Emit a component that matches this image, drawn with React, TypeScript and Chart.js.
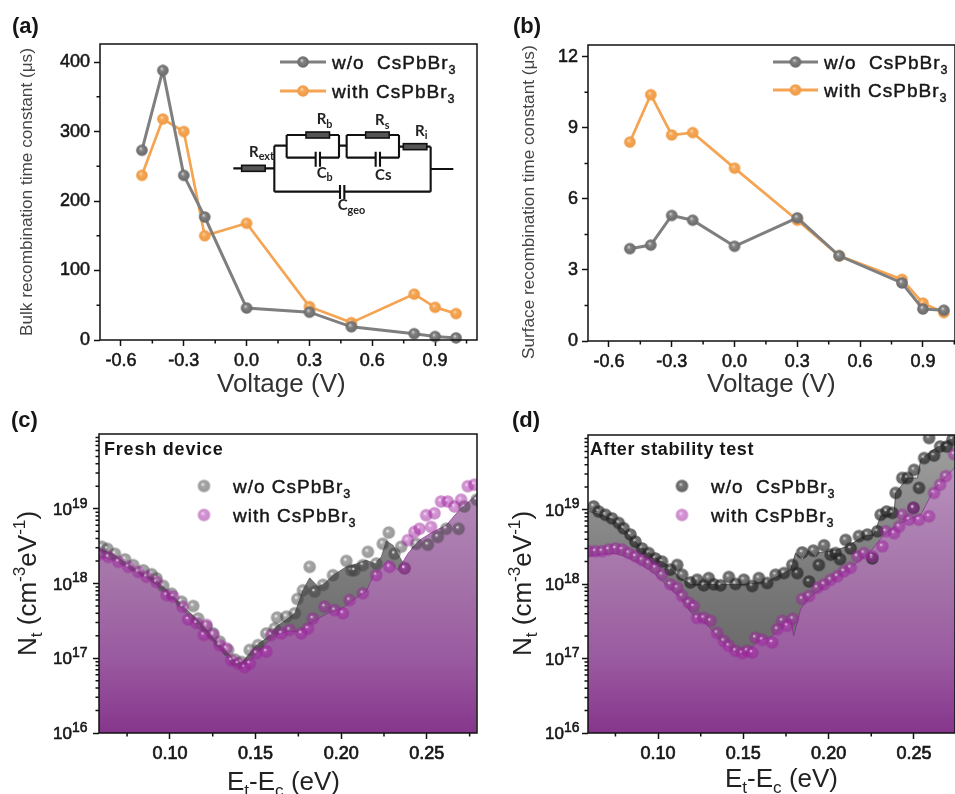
import React, { useEffect, useRef } from "react";
import { Chart, registerables } from "chart.js";

Chart.register(...registerables);

type Pt = [number, number];

// ---------- Panels (a) and (b): recombination time constants ----------
const voltage = [-0.5, -0.4, -0.3, -0.2, 0, 0.3, 0.5, 0.8, 0.9, 1.0];
const bulkWithout = [273, 388, 237, 177, 46, 40, 19, 9, 5, 3];
const bulkWith = [237, 318, 300, 150, 168, 48, 25, 66, 47, 38];
const surfaceWithout = [3.9, 4.05, 5.3, 5.1, 4.0, 5.2, 3.6, 2.45, 1.35, 1.3];
const surfaceWith = [8.4, 10.4, 8.7, 8.8, 7.3, 5.1, 3.6, 2.6, 1.6, 1.2];

const voltageTicks = [-0.6, -0.3, 0, 0.3, 0.6, 0.9];
const voltageMinor = [-0.45, -0.15, 0.15, 0.45, 0.75, 1.05];
const bulkTicks = [0, 100, 200, 300, 400];
const bulkMinor = [50, 150, 250, 350];
const surfaceTicks = [0, 3, 6, 9, 12];
const surfaceMinor = [1.5, 4.5, 7.5, 10.5];

// ---------- Panels (c) and (d): trap density ----------
const energyTicks = [0.1, 0.15, 0.2, 0.25];
const energyMinor = [0.075, 0.125, 0.175, 0.225, 0.275];
const densityTicks = [1e16, 1e17, 1e18, 1e19];
const densityExponents = ["16", "17", "18", "19"];
const densityMinor = [
  2e16, 3e16, 4e16, 5e16, 6e16, 7e16, 8e16, 9e16, 2e17, 3e17, 4e17, 5e17, 6e17, 7e17, 8e17, 9e17,
  2e18, 3e18, 4e18, 5e18, 6e18, 7e18, 8e18, 9e18, 2e19, 3e19, 4e19, 5e19, 6e19, 7e19, 8e19, 9e19,
];

const freshWithoutArea: Pt[] = [
  [0.0584, 2.95e18], [0.067, 2.47e18], [0.0747, 1.85e18], [0.0825, 1.43e18], [0.0903, 1.17e18], [0.0961, 9.1e17],
  [0.102, 6.7e17], [0.1087, 4.7e17], [0.1155, 3.4e17], [0.1214, 2.4e17], [0.1272, 1.67e17], [0.133, 1.23e17],
  [0.1379, 9.4e16], [0.1418, 8.7e16], [0.1466, 1.17e17], [0.1505, 1.5e17], [0.1563, 1.85e17], [0.1622, 2.65e17],
  [0.168, 3.3e17], [0.1729, 4e17], [0.1777, 8.2e17], [0.1816, 1.19e18], [0.1864, 9.1e17], [0.1903, 1e18],
  [0.1952, 1.29e18], [0.203, 1.67e18], [0.2069, 1.76e18], [0.2146, 2.05e18], [0.2195, 1.85e18], [0.2234, 2.27e18],
  [0.2263, 3.7e18], [0.2302, 3.26e18], [0.2341, 2.27e18], [0.237, 1.76e18], [0.2418, 3.1e18], [0.2515, 3.6e18],
  [0.2613, 4.4e18], [0.269, 7.8e18], [0.2791, 1.32e19],
];
const freshWithArea: Pt[] = [
  [0.0584, 2.3e18], [0.067, 2.05e18], [0.0747, 1.67e18], [0.0825, 1.36e18], [0.0903, 1.05e18], [0.0961, 8.2e17],
  [0.102, 6.3e17], [0.1087, 4.2e17], [0.1155, 2.65e17], [0.1214, 2.05e17], [0.1272, 1.5e17], [0.133, 1.05e17],
  [0.1379, 8.9e16], [0.1418, 8.1e16], [0.1466, 8.9e16], [0.1505, 1.17e17], [0.1563, 1.6e17], [0.1622, 2.05e17],
  [0.168, 2.27e17], [0.1758, 2.27e17], [0.1835, 3.1e17], [0.1923, 4e17], [0.201, 4.7e17], [0.2069, 6e17],
  [0.2146, 7.8e17], [0.2185, 1.23e18], [0.2224, 1.5e18], [0.2273, 2.05e18], [0.2331, 1.5e18], [0.2389, 2.5e18],
  [0.2457, 3.8e18], [0.2535, 4.9e18], [0.2613, 6e18], [0.269, 9.6e18], [0.2791, 1.55e19],
];
const freshWithoutPoints: Pt[] = [
  [0.0602, 3.1e18], [0.0635, 2.9e18], [0.0679, 2.5e18], [0.0738, 2.1e18], [0.0786, 1.76e18], [0.0845, 1.5e18],
  [0.0893, 1.33e18], [0.0922, 1.17e18], [0.0961, 9.3e17], [0.101, 7.3e17], [0.1068, 5.7e17], [0.1136, 5e17],
  [0.1165, 3.4e17], [0.1214, 2.65e17], [0.1253, 2.15e17], [0.1291, 1.67e17], [0.134, 1.29e17], [0.1379, 9.6e16],
  [0.1418, 8.9e16], [0.1466, 1.29e17], [0.1515, 1.5e17], [0.1563, 2.15e17], [0.1612, 2.5e17], [0.1626, 3.5e17],
  [0.168, 3.6e17], [0.1729, 4e17], [0.1744, 6.2e17], [0.1777, 8.1e17], [0.1816, 1.67e18], [0.1845, 7.8e17],
  [0.1894, 9.6e17], [0.1952, 1.29e18], [0.203, 2e18], [0.2059, 1.5e18], [0.2078, 1.5e18], [0.2127, 1.76e18],
  [0.2156, 2.65e18], [0.2205, 1.85e18], [0.2243, 3.4e18], [0.2278, 4.8e18], [0.2311, 2.5e18], [0.235, 3.1e18],
  [0.237, 1.6e18], [0.2438, 3.4e18], [0.2506, 3.3e18], [0.2564, 4.2e18], [0.2613, 5.4e18], [0.2686, 5.4e18],
  [0.2719, 1.07e19], [0.2791, 1.32e19],
];
const freshWithPoints: Pt[] = [
  [0.0592, 2.47e18], [0.0641, 2.27e18], [0.0699, 1.95e18], [0.0757, 1.67e18], [0.0815, 1.43e18], [0.0864, 1.23e18],
  [0.0922, 1.05e18], [0.0981, 7e17], [0.1019, 6.7e17], [0.1074, 4.9e17], [0.1107, 3.3e17], [0.1155, 2.95e17],
  [0.1198, 2.05e17], [0.1214, 2.8e17], [0.1253, 2.05e17], [0.1291, 1.5e17], [0.133, 1.36e17], [0.1359, 9.4e16],
  [0.1398, 8.5e16], [0.1437, 7.6e16], [0.1466, 8.5e16], [0.1505, 1.17e17], [0.1563, 1.23e17], [0.1593, 2.05e17],
  [0.1651, 2.15e17], [0.1699, 2.4e17], [0.1767, 2.15e17], [0.1806, 2.5e17], [0.1835, 3.4e17], [0.1903, 4.9e17],
  [0.1962, 4.4e17], [0.201, 4e17], [0.2049, 6e17], [0.2127, 7.4e17], [0.2205, 1.29e18], [0.2282, 1.67e18],
  [0.237, 1.6e18], [0.2389, 3.8e18], [0.2428, 4.9e18], [0.2457, 5.4e18], [0.2496, 8.2e18], [0.2525, 5.7e18],
  [0.2545, 8.7e18], [0.2583, 1.25e19], [0.2622, 1.25e19], [0.2661, 1.07e19], [0.27, 1.32e19], [0.2739, 2e19],
  [0.2778, 2.1e19],
];

const agedWithoutArea: Pt[] = [
  [0.0589, 9.5e18], [0.0661, 8.5e18], [0.074, 7.3e18], [0.0818, 4.8e18], [0.0896, 3.2e18], [0.0975, 2.35e18],
  [0.1053, 1.8e18], [0.1131, 1.2e18], [0.119, 9.9e17], [0.1288, 9.9e17], [0.1366, 9.9e17], [0.1503, 9.9e17],
  [0.164, 1.08e18], [0.1718, 1.33e18], [0.1777, 1.56e18], [0.1806, 2.6e18], [0.1847, 2.1e18], [0.1883, 2.8e18],
  [0.1924, 2.3e18], [0.1941, 2.65e18], [0.2031, 2.8e18], [0.211, 3.2e18], [0.2207, 4.4e18], [0.2266, 4.6e18],
  [0.2305, 8.2e18], [0.2384, 9e18], [0.2393, 1.67e19], [0.2462, 2.65e19], [0.2521, 2.65e19], [0.254, 4.7e19],
  [0.2618, 6.4e19], [0.2746, 9.6e19],
];
const agedWithArea: Pt[] = [
  [0.0589, 2.35e18], [0.0661, 2.5e18], [0.074, 2.6e18], [0.0818, 2.3e18], [0.0896, 1.85e18], [0.0975, 1.4e18],
  [0.1053, 9.5e17], [0.1131, 6.5e17], [0.1209, 3.7e17], [0.1288, 2.85e17], [0.1366, 1.72e17], [0.1444, 1.27e17],
  [0.1503, 1.14e17], [0.153, 1.25e17], [0.1583, 1.7e17], [0.1659, 1.93e17], [0.173, 2.6e17], [0.1777, 3.4e17],
  [0.1795, 2e17], [0.1836, 4.6e17], [0.1865, 5.7e17], [0.1914, 7.3e17], [0.2004, 1.03e18], [0.2129, 1.65e18],
  [0.2247, 2.75e18], [0.2325, 4.6e18], [0.2423, 6.6e18], [0.254, 8.5e18], [0.2618, 1.85e19], [0.2746, 3.8e19],
];
const agedWithoutPoints: Pt[] = [
  [0.0622, 1.1e19], [0.0652, 9.4e18], [0.0691, 8.5e18], [0.073, 7.6e18], [0.0769, 6.6e18], [0.0798, 5.6e18],
  [0.0838, 4.6e18], [0.0867, 3.7e18], [0.0906, 3e18], [0.0945, 2.6e18], [0.0984, 2.2e18], [0.1023, 2e18],
  [0.1072, 1.56e18], [0.1112, 1.8e18], [0.1141, 1.33e18], [0.119, 1.05e18], [0.1229, 1.14e18], [0.1268, 9.6e17],
  [0.1297, 1.2e18], [0.1327, 9.9e17], [0.1366, 9.6e17], [0.1415, 1.24e18], [0.1454, 1e18], [0.1503, 1.14e18],
  [0.1552, 9.4e17], [0.1591, 1.2e18], [0.164, 1.03e18], [0.1689, 1.33e18], [0.1738, 1.4e18], [0.1787, 1.8e18],
  [0.1816, 1.4e18], [0.1845, 2.65e18], [0.1885, 1.08e18], [0.191, 2.8e18], [0.1943, 1.8e18], [0.1973, 3.3e18],
  [0.2012, 2.47e18], [0.2041, 2.6e18], [0.2067, 2.15e18], [0.21, 3.9e18], [0.2129, 3e18], [0.2178, 4.4e18],
  [0.2227, 4.6e18], [0.2256, 2.2e18], [0.2286, 5.1e18], [0.2305, 8.5e18], [0.234, 9.4e18], [0.2374, 9e18],
  [0.2393, 1.67e19], [0.2432, 2.65e19], [0.2462, 2.65e19], [0.2497, 1.05e19], [0.2501, 3.4e19], [0.253, 1.95e19],
  [0.256, 4.9e19], [0.2589, 9.1e19], [0.2618, 5.3e19], [0.2654, 7e19], [0.2693, 7e19], [0.2726, 8.7e19],
];
const agedWithPoints: Pt[] = [
  [0.0593, 2.75e18], [0.0632, 2.75e18], [0.0671, 2.75e18], [0.071, 2.9e18], [0.075, 3e18], [0.0789, 2.9e18],
  [0.0828, 2.6e18], [0.0867, 2.35e18], [0.0906, 2.1e18], [0.0945, 1.9e18], [0.0984, 1.65e18], [0.1023, 1.33e18],
  [0.1072, 9.9e17], [0.1112, 8.9e17], [0.1141, 6.9e17], [0.118, 5.6e17], [0.1209, 5e17], [0.1229, 3.5e17],
  [0.1268, 3.5e17], [0.1307, 3.2e17], [0.1346, 2.2e17], [0.1386, 1.72e17], [0.1415, 1.48e17], [0.1454, 1.27e17],
  [0.1493, 1.18e17], [0.1523, 1.27e17], [0.1552, 1.2e17], [0.1571, 1.9e17], [0.1611, 1.78e17], [0.1669, 1.64e17],
  [0.1699, 2.47e17], [0.1728, 3.2e17], [0.1757, 2.75e17], [0.179, 3.4e17], [0.1845, 6.3e17], [0.1885, 6.9e17],
  [0.1933, 8.9e17], [0.1973, 9.9e17], [0.2012, 1.14e18], [0.2051, 1.27e18], [0.209, 1.48e18], [0.2129, 1.65e18],
  [0.2168, 2.35e18], [0.2207, 2.6e18], [0.2256, 2.35e18], [0.2315, 3.2e18], [0.2335, 5.1e18], [0.2384, 4.8e18],
  [0.2413, 5.9e18], [0.2432, 8.5e18], [0.2472, 7.3e18], [0.2497, 1.05e19], [0.253, 7.3e18], [0.2589, 8.1e18],
  [0.2618, 1.67e19], [0.2654, 2.15e19], [0.2687, 2.8e19], [0.2736, 5.5e19],
];

// ---------- Text helpers ----------
const FONT = '"Liberation Sans", Arial, sans-serif';
const INK = "#161616";
type Part = { t: string; k?: "sub" | "sup" };

function drawRich(
  ctx: CanvasRenderingContext2D, x: number, y: number, parts: Part[], size: number,
  opts: { rot?: number; color?: string; weight?: string; spacing?: number; family?: string; subScale?: number; stroke?: number; supRise?: number } = {},
) {
  const { rot = 0, color = INK, weight = "normal", spacing = 0, family = FONT, subScale = 0.66, stroke = 0, supRise = 0.42 } = opts;
  ctx.save();
  ctx.translate(x, y);
  ctx.rotate(rot);
  ctx.fillStyle = color;
  ctx.strokeStyle = color;
  ctx.lineWidth = stroke;
  ctx.lineJoin = "round";
  ctx.textAlign = "left";
  ctx.textBaseline = "alphabetic";
  (ctx as any).letterSpacing = spacing + "px";
  let cx = 0;
  for (const p of parts) {
    const s = p.k ? size * subScale : size;
    ctx.font = `${weight} ${s}px ${family}`;
    const dy = p.k === "sub" ? size * 0.24 : p.k === "sup" ? -size * supRise : 0;
    if (stroke > 0) ctx.strokeText(p.t, cx, dy);
    ctx.fillText(p.t, cx, dy);
    cx += ctx.measureText(p.t).width;
  }
  ctx.restore();
}

function sphere(radius: number, base: string, light: string, edge: string, spot: string) {
  const c = document.createElement("canvas");
  const size = Math.ceil(radius * 2) + 2;
  c.width = size;
  c.height = size;
  const g = c.getContext("2d")!;
  const m = size / 2;
  const grad = g.createRadialGradient(m - radius * 0.2, m - radius * 0.3, 0, m, m, radius);
  grad.addColorStop(0, light);
  grad.addColorStop(0.45, base);
  grad.addColorStop(1, edge);
  g.fillStyle = grad;
  g.beginPath();
  g.arc(m, m, radius, 0, Math.PI * 2);
  g.fill();
  g.fillStyle = spot;
  g.beginPath();
  g.arc(m - radius * 0.2, m - radius * 0.26, radius * 0.2, 0, Math.PI * 2);
  g.fill();
  return c;
}

function circuit(ctx: CanvasRenderingContext2D) {
  const X = (z: number) => 225 + z / 3;
  const Y = (z: number) => 105 + z / 3;
  ctx.save();
  ctx.strokeStyle = "#111";
  ctx.lineWidth = 2.1;
  const wires = [
    [25, 190, 148, 190], [148, 122, 148, 260], [148, 122, 185, 122],
    [185, 90, 342, 90], [185, 90, 185, 158], [342, 90, 342, 158],
    [185, 158, 272, 158], [285, 158, 342, 158], [342, 122, 365, 122],
    [365, 90, 522, 90], [365, 90, 365, 158], [522, 90, 522, 158],
    [365, 158, 452, 158], [465, 158, 522, 158], [522, 125, 617, 125],
    [617, 125, 617, 260], [148, 260, 345, 260], [358, 260, 617, 260],
    [617, 192, 685, 192],
    [272, 140, 272, 185], [285, 140, 285, 185], [452, 140, 452, 185], [465, 140, 465, 185],
    [345, 240, 345, 282], [358, 240, 358, 282],
  ];
  ctx.beginPath();
  for (const [a, b, c, d] of wires) {
    ctx.moveTo(X(a), Y(b));
    ctx.lineTo(X(c), Y(d));
  }
  ctx.stroke();
  ctx.fillStyle = "#555";
  ctx.lineWidth = 1.6;
  for (const [a, b] of [[50, 190], [243, 90], [422, 90], [535, 125]]) {
    ctx.fillRect(X(a), Y(b) - 3, 23.5, 6);
    ctx.strokeRect(X(a), Y(b) - 3, 23.5, 6);
  }
  ctx.restore();
  const labels: [number, number, Part[]][] = [
    [72, 155, [{ t: "R" }, { t: "ext", k: "sub" }]],
    [275, 58, [{ t: "R" }, { t: "b", k: "sub" }]],
    [450, 60, [{ t: "R" }, { t: "s", k: "sub" }]],
    [570, 92, [{ t: "R" }, { t: "i", k: "sub" }]],
    [275, 218, [{ t: "C" }, { t: "b", k: "sub" }]],
    [450, 224, [{ t: "Cs" }]],
    [338, 315, [{ t: "C" }, { t: "geo", k: "sub" }]],
  ];
  for (const [a, b, p] of labels) {
    drawRich(ctx, X(a), Y(b), p, 15, { weight: "bold", family: "Lato, sans-serif", color: "#222", subScale: 0.72 });
  }
}

// ---------- Chart set-up ----------
type Legend = { marker: HTMLCanvasElement; color?: string; parts: Part[]; y: number; baseline: number };
type PanelCfg = {
  x: number; y: number; w: number; h: number;
  left: number; top: number; right: number; bottom: number;
  xr: [number, number]; yr: [number, number];
  log: boolean; logLabelOffset?: number;
  xTicks: number[]; xMinor: number[]; xDigits: number;
  yTicks: number[]; yMinor: number[];
  datasets: any[];
  draw: (ctx: CanvasRenderingContext2D) => void;
};

const W3 = "w/o  CsPbBr";
const WITH3 = "with CsPbBr";

function makeConfigs(): PanelCfg[] {
  const grayS = sphere(5.8, "#7d7d7d", "#a8a8a8", "#686868", "rgba(215,215,215,0.75)");
  const orangeS = sphere(5.8, "#f4a452", "#f9c083", "#ee9a45", "rgba(250,215,170,0.8)");
  const freshGray = sphere(6.2, "rgba(60,60,60,0.48)", "rgba(90,90,90,0.4)", "rgba(60,60,60,0.52)", "rgba(255,255,255,0.7)");
  const agedGray = sphere(6.2, "rgba(40,40,40,0.66)", "rgba(70,70,70,0.6)", "rgba(30,30,30,0.7)", "rgba(255,255,255,0.55)");
  const pink = sphere(6.2, "rgba(165,40,165,0.5)", "rgba(190,80,190,0.45)", "rgba(150,30,150,0.52)", "rgba(255,230,255,0.6)");

  const purpleFill = (c: any) => {
    const area = c.chart.chartArea;
    if (!area) return "#a070a5";
    const g = c.chart.ctx.createLinearGradient(0, area.top, 0, area.bottom);
    g.addColorStop(0, "#c09bc4");
    g.addColorStop(0.25, "#b085b5");
    g.addColorStop(0.5, "#a472a8");
    g.addColorStop(0.75, "#9a5aa0");
    g.addColorStop(1, "#86368c");
    return g;
  };
  const grayFill = (c: any) => {
    const area = c.chart.chartArea;
    if (!area) return "#777";
    const g = c.chart.ctx.createLinearGradient(0, area.top, 0, area.bottom);
    g.addColorStop(0, "#a0a0a0");
    g.addColorStop(0.55, "#757575");
    g.addColorStop(1, "#5c5c5c");
    return g;
  };

  const lineSet = (label: string, ys: number[], color: string, marker: HTMLCanvasElement, order: number, width: number) => ({
    label,
    data: voltage.map((v, i) => ({ x: v, y: ys[i] })),
    borderColor: color,
    borderWidth: width,
    pointStyle: marker,
    pointRadius: 5,
    order,
    clip: false,
  });
  const area = (label: string, pts: Pt[], fill: any, line: string, order: number) => ({
    label,
    data: pts.map(([x, y]) => ({ x, y })),
    backgroundColor: fill,
    fill: "start",
    borderColor: line,
    borderWidth: 1,
    pointRadius: 0,
    order,
  });
  const dots = (label: string, pts: Pt[], marker: HTMLCanvasElement, order: number) => ({
    label,
    data: pts.map(([x, y]) => ({ x, y })),
    showLine: false,
    pointStyle: marker,
    pointRadius: 5,
    order,
  });
  const curveLegend = (ctx: CanvasRenderingContext2D, x0: number, x1: number, tx: number, rows: Legend[]) => {
    for (const r of rows) {
      ctx.save();
      ctx.strokeStyle = r.color!;
      ctx.lineWidth = 2.8;
      ctx.beginPath();
      ctx.moveTo(x0, r.y);
      ctx.lineTo(x1, r.y);
      ctx.stroke();
      ctx.restore();
      ctx.drawImage(r.marker, (x0 + x1) / 2 - r.marker.width / 2, r.y - r.marker.height / 2);
      drawRich(ctx, tx, r.baseline, r.parts, 19, { spacing: 1, stroke: 0.45 });
    }
  };
  const dotLegend = (ctx: CanvasRenderingContext2D, mx: number, tx: number, rows: Legend[]) => {
    for (const r of rows) {
      ctx.drawImage(r.marker, mx - r.marker.width / 2, r.y - r.marker.height / 2);
      drawRich(ctx, tx, r.baseline, r.parts, 19, { spacing: 1, stroke: 0.45 });
    }
  };
  const voltageTitle: Part[] = [{ t: "Voltage (V)" }];
  const nTitle: Part[] = [{ t: "N" }, { t: "t", k: "sub" }, { t: " (cm" }, { t: "-3", k: "sup" }, { t: "eV" }, { t: "-1", k: "sup" }, { t: ")" }];
  const eTitle: Part[] = [{ t: "E" }, { t: "t", k: "sub" }, { t: "-E" }, { t: "c", k: "sub" }, { t: " (eV)" }];

  return [
    {
      x: 0, y: 0, w: 480, h: 400, left: 100, top: 44, right: 3, bottom: 60,
      xr: [-0.7, 1.1], yr: [0, 426], log: false,
      xTicks: voltageTicks, xMinor: voltageMinor, xDigits: 1, yTicks: bulkTicks, yMinor: bulkMinor,
      datasets: [
        lineSet("w/o CsPbBr3", bulkWithout, "#7f7f7f", grayS, 0, 3),
        lineSet("with CsPbBr3", bulkWith, "#f4a452", orangeS, 1, 2.7),
      ],
      draw: (ctx) => {
        drawRich(ctx, 12, 33, [{ t: "(a)" }], 22, { weight: "bold" });
        drawRich(ctx, 217, 392, voltageTitle, 26, { color: "#333" });
        drawRich(ctx, 32, 336, [{ t: "Bulk recombination time constant " }, { t: "(μs)" }], 17.2, { rot: -Math.PI / 2, color: "#444" });
        curveLegend(ctx, 280, 326, 332, [
          { marker: grayS, color: "#7f7f7f", parts: [{ t: W3 }, { t: "3", k: "sub" }], y: 62, baseline: 69 },
          { marker: orangeS, color: "#f4a452", parts: [{ t: WITH3 }, { t: "3", k: "sub" }], y: 91, baseline: 98 },
        ]);
        circuit(ctx);
      },
    },
    {
      x: 480, y: 0, w: 475, h: 400, left: 108, top: 45, right: 0, bottom: 59,
      xr: [-0.7, 1.0534], yr: [0, 12.5], log: false,
      xTicks: voltageTicks, xMinor: voltageMinor, xDigits: 1, yTicks: surfaceTicks, yMinor: surfaceMinor,
      datasets: [
        lineSet("w/o CsPbBr3", surfaceWithout, "#7f7f7f", grayS, 0, 3),
        lineSet("with CsPbBr3", surfaceWith, "#f4a452", orangeS, 1, 2.7),
      ],
      draw: (ctx) => {
        drawRich(ctx, 33, 33, [{ t: "(b)" }], 22, { weight: "bold" });
        drawRich(ctx, 227, 392, voltageTitle, 26, { color: "#333" });
        drawRich(ctx, 54, 359, [{ t: "Surface recombination time constant " }, { t: "(μs)" }], 17.2, { rot: -Math.PI / 2, color: "#444" });
        curveLegend(ctx, 293, 338, 344, [
          { marker: grayS, color: "#7f7f7f", parts: [{ t: W3 }, { t: "3", k: "sub" }], y: 62, baseline: 69 },
          { marker: orangeS, color: "#f4a452", parts: [{ t: WITH3 }, { t: "3", k: "sub" }], y: 90, baseline: 97 },
        ]);
      },
    },
    {
      x: 0, y: 400, w: 480, h: 394, left: 99, top: 34, right: 3, bottom: 61,
      xr: [0.0586, 0.2793], yr: [1e16, 1e20], log: true, logLabelOffset: 46,
      xTicks: energyTicks, xMinor: energyMinor, xDigits: 2, yTicks: densityTicks, yMinor: densityMinor,
      datasets: [
        dots("with CsPbBr3", freshWithPoints, pink, 0),
        dots("w/o CsPbBr3", freshWithoutPoints, freshGray, 1),
        area("with CsPbBr3 area", freshWithArea, purpleFill, "rgba(135,40,145,0.7)", 2),
        area("w/o CsPbBr3 area", freshWithoutArea, grayFill, "rgba(60,60,60,0.6)", 3),
      ],
      draw: (ctx) => {
        drawRich(ctx, 11, 27, [{ t: "(c)" }], 22, { weight: "bold" });
        drawRich(ctx, 227, 390, eTitle, 26, { color: "#222" });
        drawRich(ctx, 36, 256, nTitle, 26, { rot: -Math.PI / 2, color: "#222" });
        drawRich(ctx, 104, 55, [{ t: "Fresh device" }], 18, { weight: "bold", spacing: 0.8 });
        dotLegend(ctx, 204, 233, [
          { marker: freshGray, parts: [{ t: "w/o CsPbBr" }, { t: "3", k: "sub" }], y: 86, baseline: 93 },
          { marker: pink, parts: [{ t: WITH3 }, { t: "3", k: "sub" }], y: 115, baseline: 122 },
        ]);
      },
    },
    {
      x: 480, y: 400, w: 475, h: 394, left: 108, top: 35, right: 0, bottom: 61,
      xr: [0.0589, 0.2741], yr: [1e16, 1e20], log: true, logLabelOffset: 43,
      xTicks: energyTicks, xMinor: energyMinor, xDigits: 2, yTicks: densityTicks, yMinor: densityMinor,
      datasets: [
        dots("with CsPbBr3", agedWithPoints, pink, 0),
        dots("w/o CsPbBr3", agedWithoutPoints, agedGray, 1),
        area("with CsPbBr3 area", agedWithArea, purpleFill, "rgba(135,40,145,0.7)", 2),
        area("w/o CsPbBr3 area", agedWithoutArea, grayFill, "rgba(50,50,50,0.7)", 3),
      ],
      draw: (ctx) => {
        drawRich(ctx, 32, 27, [{ t: "(d)" }], 22, { weight: "bold" });
        drawRich(ctx, 245, 387, eTitle, 26, { color: "#222" });
        drawRich(ctx, 51, 256, nTitle, 26, { rot: -Math.PI / 2, color: "#222" });
        drawRich(ctx, 110, 55, [{ t: "After stability test" }], 18, { weight: "bold", spacing: 0.6 });
        dotLegend(ctx, 202, 231, [
          { marker: agedGray, parts: [{ t: W3 }, { t: "3", k: "sub" }], y: 86, baseline: 93 },
          { marker: pink, parts: [{ t: WITH3 }, { t: "3", k: "sub" }], y: 115, baseline: 122 },
        ]);
      },
    },
  ];
}

function buildChart(canvas: HTMLCanvasElement, cfg: PanelCfg) {
  const axisCommon = {
    border: { display: false },
    grid: { drawOnChartArea: false, drawTicks: true, tickLength: 6, tickWidth: 1.5, tickColor: "#111" },
  };
  const tickText = {
    color: INK,
    textStrokeColor: INK,
    textStrokeWidth: cfg.log ? 0.7 : 0.55,
    font: { family: FONT, size: 18 },
  };
  const overlay = {
    id: "overlay",
    afterDraw(chart: any) {
      const { ctx, chartArea: a, scales } = chart;
      ctx.save();
      ctx.strokeStyle = "#111";
      ctx.lineWidth = 1.5;
      ctx.beginPath();
      for (const v of cfg.xMinor) {
        const p = scales.x.getPixelForValue(v);
        if (p > a.right) continue;
        ctx.moveTo(p, a.bottom);
        ctx.lineTo(p, a.bottom + 3.5);
      }
      for (const v of cfg.yMinor) {
        const p = scales.y.getPixelForValue(v);
        ctx.moveTo(a.left, p);
        ctx.lineTo(a.left - 3.5, p);
      }
      ctx.stroke();
      ctx.strokeRect(a.left, a.top, a.right - a.left, a.bottom - a.top);
      ctx.restore();
      if (cfg.log) {
        densityTicks.forEach((v, i) => {
          const p = scales.y.getPixelForValue(v);
          drawRich(ctx, a.left - cfg.logLabelOffset!, p + 6, [{ t: "10" }, { t: densityExponents[i], k: "sup" }], 17, {
            stroke: 0.6, subScale: 0.82, supRise: 0.42,
          });
        });
      }
      cfg.draw(ctx);
    },
  };
  return new Chart(canvas, {
    type: "line",
    data: { datasets: cfg.datasets },
    plugins: [overlay],
    options: {
      animation: false,
      responsive: false,
      events: [],
      layout: { autoPadding: false, padding: { left: 0, top: cfg.top, right: cfg.right, bottom: 0 } },
      plugins: { legend: { display: false }, title: { display: false }, tooltip: { enabled: false } },
      scales: {
        x: {
          ...axisCommon,
          type: "linear",
          min: cfg.xr[0],
          max: cfg.xr[1],
          afterBuildTicks: (s: any) => { s.ticks = cfg.xTicks.map((value) => ({ value })); },
          afterFit: (s: any) => { s.height = cfg.bottom; },
          ticks: {
            ...tickText,
            autoSkip: false,
            maxRotation: 0,
            padding: 4,
            callback: (v: any) => Number(v).toFixed(cfg.xDigits),
          },
        },
        y: {
          ...axisCommon,
          type: cfg.log ? "logarithmic" : "linear",
          min: cfg.yr[0],
          max: cfg.yr[1],
          afterBuildTicks: (s: any) => { s.ticks = cfg.yTicks.map((value) => ({ value })); },
          afterFit: (s: any) => { s.width = cfg.left; },
          ticks: {
            ...tickText,
            display: !cfg.log,
            autoSkip: false,
            padding: 4,
            callback: (v: any) => String(v),
          },
        },
      },
    } as any,
  });
}

export default function App() {
  const refs = [useRef<HTMLCanvasElement>(null), useRef<HTMLCanvasElement>(null), useRef<HTMLCanvasElement>(null), useRef<HTMLCanvasElement>(null)];
  const cfgs = useRef<PanelCfg[] | null>(null);
  if (!cfgs.current && typeof document !== "undefined") cfgs.current = makeConfigs();
  useEffect(() => {
    const charts = cfgs.current!.map((c, i) => buildChart(refs[i].current!, c));
    return () => charts.forEach((c) => c.destroy());
  }, []);
  return (
    <div style={{ position: "absolute", left: 0, top: 0, width: 955, height: 794, overflow: "hidden", background: "#fff" }}>
      {cfgs.current!.map((c, i) => (
        <canvas key={i} ref={refs[i]} width={c.w} height={c.h} style={{ position: "absolute", left: c.x, top: c.y, width: c.w, height: c.h, display: "block" }} />
      ))}
    </div>
  );
}
